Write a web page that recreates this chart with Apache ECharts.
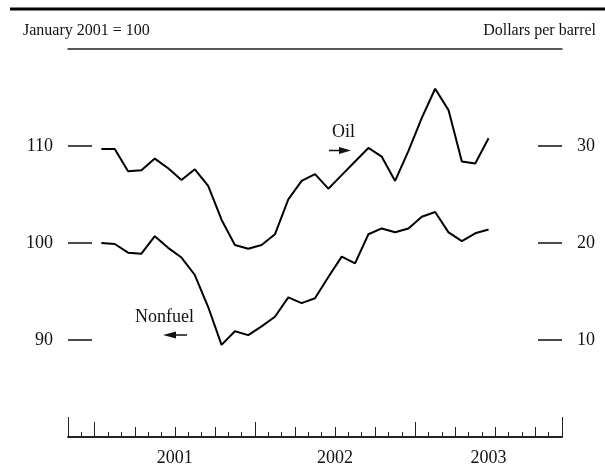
<!DOCTYPE html>
<html>
<head>
<meta charset="utf-8">
<script src="https://cdn.jsdelivr.net/npm/echarts@6/dist/echarts.min.js"></script>
<style>
  html, body { margin: 0; padding: 0; background: #fff; }
  #main { width: 605px; height: 468px; }
</style>
</head>
<body>
<div id="main"></div>
<script>
// monthly values, Jan 2001 - Jun 2003
var months = ['2001-01','2001-02','2001-03','2001-04','2001-05','2001-06',
              '2001-07','2001-08','2001-09','2001-10','2001-11','2001-12',
              '2002-01','2002-02','2002-03','2002-04','2002-05','2002-06',
              '2002-07','2002-08','2002-09','2002-10','2002-11','2002-12',
              '2003-01','2003-02','2003-03','2003-04','2003-05','2003-06'];
// nonfuel commodity index, January 2001 = 100 (left scale)
var nonfuel = [100.0, 99.9, 99.0, 98.9, 100.7, 99.5, 98.5, 96.7, 93.4, 89.5,
               90.9, 90.5, 91.4, 92.4, 94.4, 93.8, 94.3, 96.5, 98.6, 97.9,
               100.9, 101.5, 101.1, 101.5, 102.7, 103.2, 101.1, 100.2, 101.0, 101.4];
// oil, dollars per barrel (right scale)
var oil = [29.7, 29.7, 27.4, 27.5, 28.7, 27.7, 26.5, 27.6, 25.9, 22.4,
           19.8, 19.4, 19.8, 20.9, 24.5, 26.4, 27.1, 25.6, 27.0, 28.4,
           29.8, 28.9, 26.4, 29.5, 32.9, 35.9, 33.7, 28.4, 28.2, 30.8];
var years = ['2001', '2002', '2003'];
var indexTicks = [90, 100, 110];
var dollarTicks = [10, 20, 30];

var font = '"Liberation Serif", "Times New Roman", serif';
// x is months counted from Jan 2001; axis runs Nov 2000 .. end Nov 2003
var xMin = -2, xMax = 35;

var monthTicks = [], quarterTicks = [], yearTicks = [];
for (var m = xMin; m <= xMax; m++) {
    monthTicks.push(m);
    if (m % 12 === 0) yearTicks.push(m);
    else if (m % 3 === 0) quarterTicks.push(m);
}
var yearCenters = years.map(function (y, k) {
    return (Math.max(12 * k, xMin) + Math.min(12 * k + 12, xMax)) / 2;
});

function tickAxis(values, len) {
    return {
        type: 'value', min: xMin, max: xMax, position: 'bottom',
        axisLine: { show: false, onZero: false }, splitLine: { show: false },
        axisLabel: { show: false },
        axisTick: { show: true, inside: true, length: len, customValues: values,
                    lineStyle: { color: '#222', width: 1 } }
    };
}

function valueAxis(pos, min, ticks) {
    return {
        type: 'value', min: min, max: min + 40, position: pos,
        axisLine: { show: false, onZero: false }, splitLine: { show: false },
        axisTick: { show: true, inside: true, length: 24, customValues: ticks,
                    lineStyle: { color: '#111', width: 1.5 } },
        axisLabel: { customValues: ticks, margin: 15, color: '#111',
                     fontFamily: font, fontSize: 18 }
    };
}

var chart = echarts.init(document.getElementById('main'));

chart.setOption({
    animation: false,
    backgroundColor: '#fff',
    grid: { left: 68, right: 43, top: 49, bottom: 31 },
    xAxis: [
        {
            type: 'value', min: xMin, max: xMax, position: 'bottom',
            axisLine: { show: true, onZero: false, lineStyle: { color: '#222', width: 2 } },
            splitLine: { show: false },
            axisTick: { show: true, inside: true, length: 5, customValues: monthTicks,
                        lineStyle: { color: '#222', width: 1 } },
            axisLabel: {
                customValues: yearCenters, margin: 12,
                color: '#111', fontFamily: font, fontSize: 18,
                formatter: function (v) { return years[Math.floor(v / 12)]; }
            }
        },
        tickAxis(quarterTicks, 10),
        tickAxis(yearTicks, 15),
        tickAxis([xMin, xMax], 20),
        {
            type: 'value', min: xMin, max: xMax, position: 'top',
            axisLine: { show: true, onZero: false, lineStyle: { color: '#222', width: 1.5 } },
            axisTick: { show: false }, axisLabel: { show: false }, splitLine: { show: false }
        }
    ],
    yAxis: [
        valueAxis('left', 80, indexTicks),
        valueAxis('right', 0, dollarTicks)
    ],
    series: [
        {
            name: 'Nonfuel', type: 'line', xAxisIndex: 0, yAxisIndex: 0,
            symbol: 'none', lineStyle: { color: '#000', width: 2 },
            data: nonfuel.map(function (v, i) { return [i + 0.5, v]; })
        },
        {
            name: 'Oil', type: 'line', xAxisIndex: 0, yAxisIndex: 1,
            symbol: 'none', lineStyle: { color: '#000', width: 2 },
            data: oil.map(function (v, i) { return [i + 0.5, v]; })
        }
    ],
    graphic: [
        { type: 'line', shape: { x1: 10, y1: 9, x2: 605, y2: 9 },
          style: { stroke: '#000', lineWidth: 3 } },
        { type: 'text', left: 23, top: 23,
          style: { text: 'January 2001 = 100', font: '16px ' + font, fill: '#111' } },
        { type: 'text', right: 9, top: 23,
          style: { text: 'Dollars per barrel', font: '16px ' + font, fill: '#111' } },
        // series labels with arrows
        { type: 'text', left: 135, top: 308,
          style: { text: 'Nonfuel', font: '18px ' + font, fill: '#111' } },
        { type: 'line', shape: { x1: 174, y1: 335, x2: 187, y2: 335 },
          style: { stroke: '#111', lineWidth: 1.5 } },
        { type: 'polygon', shape: { points: [[163, 335], [176, 331.5], [176, 338.5]] },
          style: { fill: '#111' } },
        { type: 'text', left: 332, top: 123,
          style: { text: 'Oil', font: '18px ' + font, fill: '#111' } },
        { type: 'line', shape: { x1: 329, y1: 150.5, x2: 341, y2: 150.5 },
          style: { stroke: '#111', lineWidth: 1.5 } },
        { type: 'polygon', shape: { points: [[351, 150.5], [339, 147], [339, 154]] },
          style: { fill: '#111' } }
    ]
});
</script>
</body>
</html>
